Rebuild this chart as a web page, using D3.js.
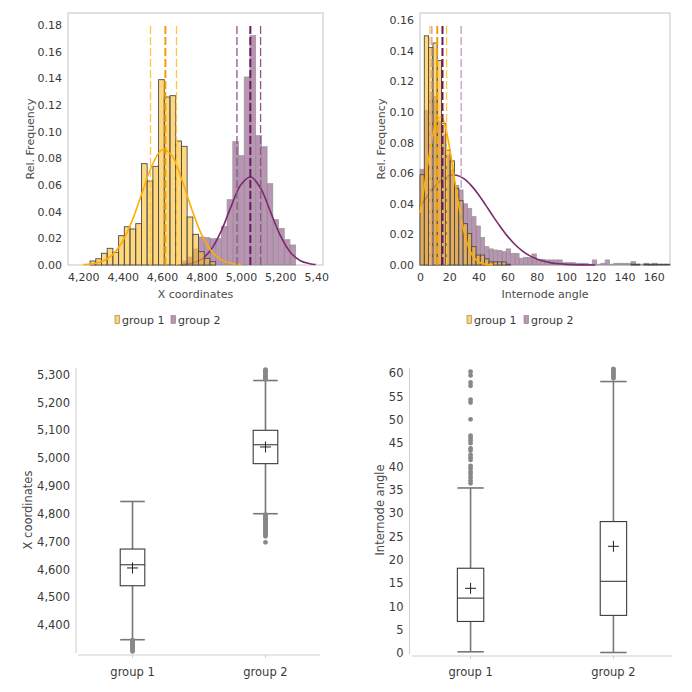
<!DOCTYPE html>
<html><head><meta charset="utf-8">
<script src="https://cdn.jsdelivr.net/npm/d3@7"></script>
<style>body{margin:0;background:#fff}svg{display:block;font-family:"DejaVu Sans",sans-serif}</style>
</head><body><div id="chart"></div>
<script>
// ---------------- DATA ----------------
const groups = ["group 1", "group 2"];

// Histogram of X coordinates (relative frequency per bin)
const xBinStart = 4234, xBinWidth = 29;
const xRelFreqG1 = [0.003,0.0047,0.0088,0.0125,0.0095,0.022,0.0287,0.027,0.031,0.076,0.063,0.074,0.139,0.126,0.127,0.093,0.089,0.036,0.023,0.010,0.005,0.0025];
const xRelFreqG2 = [0,0,0,0,0,0,0,0,0,0,0,0,0,0,0,0,0.003,0.006,0.012,0.021,0.0205,0.0197,0.0197,0.029,0.049,0.0925,0.082,0.141,0.172,0.097,0.0887,0.061,0.034,0.0275,0.019,0.015];
// fitted curves [x, relFreq]
const xCurveG1 = [[4200,0.0003],[4250,0.001],[4300,0.003],[4350,0.008],[4400,0.018],[4450,0.034],[4500,0.055],[4550,0.075],[4600,0.0865],[4650,0.082],[4700,0.064],[4750,0.042],[4800,0.023],[4850,0.0105],[4900,0.004],[4950,0.0013],[5000,0.0004]];
const xCurveG2 = [[4700,0.0003],[4750,0.0013],[4800,0.0043],[4850,0.0118],[4900,0.0254],[4950,0.0438],[5000,0.0602],[5050,0.066],[5100,0.0576],[5150,0.040],[5200,0.0222],[5250,0.0098],[5300,0.0034],[5350,0.001],[5380,0.0004]];

// Histogram of Internode angle
const aBinStart = 0, aBinWidth = 2.95;
const aRelFreqG1 = [0.059,0.1497,0.142,0.145,0.1335,0.0926,0.075,0.068,0.050,0.042,0.027,0.0205,0.012,0.0065,0.0065,0.004,0.002,0.002,0.002,0.002,0.0005,0,0,0,0,0,0,0,0,0,0,0,0,0,0,0,0,0,0,0,0,0,0,0,0,0,0,0,0,0.0005,0.0005,0,0.0005,0.0005,0.0005,0.0005,0.0005,0.0005];
const aRelFreqG2 = [0.0625,0.101,0.113,0.11,0.094,0.085,0.072,0.062,0.052,0.049,0.040,0.037,0.0316,0.0255,0.018,0.012,0.0105,0.0098,0.0095,0.0087,0.0105,0.0076,0.0076,0.0044,0.005,0.005,0.0072,0.0037,0.0037,0.0033,0.0033,0.0033,0.0033,0.0015,0.0015,0.0015,0.0011,0.0011,0.0011,0.0005,0.0033,0.0005,0.0011,0.0033,0.0005,0.0011,0.0011,0.0011,0.0011,0.0022,0.0005,0.0005,0.0011,0.0005,0.0011];
const aCurveG1 = [[0,0.034],[3,0.0514],[6,0.0699],[9,0.0858],[12,0.0955],[15,0.0961],[18,0.0876],[21,0.0722],[24,0.0539],[27,0.0364],[30,0.0223],[33,0.0123],[36,0.0062],[40,0.0021],[45,0.0004],[50,0.0001]];
const aCurveG2 = [[0,0.038],[5,0.045],[10,0.0512],[15,0.0558],[20,0.0584],[25,0.0586],[30,0.0564],[35,0.052],[40,0.0461],[45,0.0391],[50,0.0319],[55,0.025],[60,0.0187],[65,0.0134],[70,0.0093],[75,0.0061],[80,0.0039],[85,0.0024],[90,0.0014],[95,0.0008],[100,0.0004],[110,0.0001],[120,0]];

// Box plot statistics [Q1, median, Q3]
const xQuartG1 = [4541, 4616.5, 4673];
const xQuartG2 = [4980, 5048, 5100];
const aQuartG1 = [6.8, 11.8, 18.2];
const aQuartG2 = [8.1, 15.4, 28.2];
const xMeans = [4605, 5040];
const aMeans = [13.9, 22.9];
const xWhiskers = [[4347, 4844], [4800, 5279]];
const aWhiskers = [[0.3, 35.4], [0.15, 58.2]];
const xOutliersG1 = [4345,4342,4338,4335,4331,4328,4324,4320,4316,4312,4308,4305];
const xOutliersG2 = [5283,5287,5291,5295,5299,5303,5307,5311,5315,5318,4797,4792,4788,4784,4780,4776,4772,4768,4764,4760,4756,4752,4748,4744,4740,4736,4732,4728,4724,4719,4697];
const aOutliersG1 = [60.3,59.5,58,57.3,54.3,53.7,50.1,46.6,46.1,45.6,45,43.9,43.4,42.5,42,41.4,40.1,39.6,38.9,38.4,37.7,37,36.4];
const aOutliersG2 = [58.9,59.2,59.5,59.8,60.1,60.4,60.7,60.9];

// Tick labels
const xHistTicks = [4200,4400,4600,4800,5000,5200,5400];
const xHistYTicks = [0,0.02,0.04,0.06,0.08,0.10,0.12,0.14,0.16,0.18];
const aHistTicks = [0,20,40,60,80,100,120,140,160];
const aHistYTicks = [0,0.02,0.04,0.06,0.08,0.10,0.12,0.14,0.16];
const xBoxTicks = [4400,4500,4600,4700,4800,4900,5000,5100,5200,5300];
const aBoxTicks = [0,5,10,15,20,25,30,35,40,45,50,55,60];

// ---------------- STYLE ----------------
const C = {
  yFill: "rgba(255,190,40,0.6)", yStroke: "#4a4a4a",
  pFill: "rgba(120,50,110,0.52)", pStroke: "#9a9a9a",
  yCurve: "#FFAE00", pCurve: "#7A2A6F",
  yQ: "#FFC640", yMed: "#F2A200", frame: "#c4c4c4", text: "#3a3a3a", title: "#4a4a4a"
};

const svg = d3.select("#chart").append("svg").attr("width", 692).attr("height", 692);
svg.append("rect").attr("width", 692).attr("height", 692).attr("fill", "#fff");
svg.append("defs").append("clipPath").attr("id", "clipTL")
  .append("rect").attr("x", 0).attr("y", 0).attr("width", 329).attr("height", 346);

function histPanel(g, o) {
  const xs = d3.scaleLinear().domain(o.xDomain).range(o.xRange);
  const ys = d3.scaleLinear().domain(o.yDomain).range([o.bottom, o.top]);
  // frame
  g.append("rect").attr("x", o.xRange[0]).attr("y", o.top)
    .attr("width", o.xRange[1] - o.xRange[0]).attr("height", o.bottom - o.top)
    .attr("fill", "none").attr("stroke", C.frame);
  const drawBars = (vals, fill, stroke, sw) => {
    g.append("g").selectAll("rect").data(vals.map((v, i) => ({v, i})).filter(d => d.v > 0))
      .join("rect")
      .attr("x", d => xs(o.binStart + d.i * o.binWidth))
      .attr("width", d => xs(o.binStart + (d.i + 1) * o.binWidth) - xs(o.binStart + d.i * o.binWidth))
      .attr("y", d => ys(d.v)).attr("height", d => ys(0) - ys(d.v))
      .attr("fill", fill).attr("stroke", stroke).attr("stroke-width", sw);
  };
  const line = d3.line().x(d => xs(d[0])).y(d => ys(d[1])).curve(d3.curveCatmullRom);
  drawBars(o.g2, C.pFill, C.pStroke, 0.8);
  g.append("path").attr("d", line(o.c2)).attr("fill", "none").attr("stroke", C.pCurve).attr("stroke-width", 1.6);
  drawBars(o.g1, C.yFill, C.yStroke, 0.9);
  g.append("path").attr("d", line(o.c1)).attr("fill", "none").attr("stroke", C.yCurve).attr("stroke-width", 1.6);
  // quartile dashed lines
  const dash = (v, col, w) => g.append("line").attr("x1", xs(v)).attr("x2", xs(v))
    .attr("y1", o.bottom).attr("y2", o.top + 12).attr("stroke", col).attr("stroke-width", w)
    .attr("stroke-dasharray", "8,3");
  dash(o.q1[0], C.yQ, 1.3); dash(o.q1[2], C.yQ, 1.3);
  dash(o.q2[0], o.pQ, 1.3); dash(o.q2[2], o.pQ, 1.3);
  dash(o.q1[1], C.yMed, 2); dash(o.q2[1], "#6A1B5F", 2);
  // axes
  const ax = g.append("g").attr("transform", `translate(0,${o.bottom})`)
    .call(d3.axisBottom(xs).tickValues(o.xTicks).tickFormat(o.xFmt).tickSize(0).tickPadding(8));
  const ay = g.append("g").attr("transform", `translate(${o.xRange[0]},0)`)
    .call(d3.axisLeft(ys).tickValues(o.yTicks).tickFormat(d3.format(".2f")).tickSize(0).tickPadding(6));
  [ax, ay].forEach(a => { a.select(".domain").remove(); a.selectAll("text").attr("font-size", 11).attr("fill", C.text).attr("font-family", "DejaVu Sans"); });
  g.append("text").attr("x", (o.xRange[0] + o.xRange[1]) / 2).attr("y", 298).attr("text-anchor", "middle")
    .attr("font-size", 11).attr("fill", C.title).text(o.xTitle);
  g.append("text").attr("transform", `translate(${o.yTitleX},139) rotate(-90)`).attr("text-anchor", "middle")
    .attr("dominant-baseline", "central").attr("font-size", 11).attr("fill", C.title).text("Rel. Frequency");
  // legend
  const lg = g.append("g");
  const items = [[groups[0], "#FFD36E", "#8a7a50"], [groups[1], "#B994B4", "#8a7a88"]];
  items.forEach((it, i) => {
    const x0 = o.legendX[i];
    lg.append("rect").attr("x", x0).attr("y", 315.5).attr("width", 4.5).attr("height", 8)
      .attr("fill", it[1]).attr("stroke", it[2]).attr("stroke-width", 0.6);
    lg.append("text").attr("x", x0 + 7).attr("y", 324).attr("font-size", 11).attr("fill", C.text).text(it[0]);
  });
}

histPanel(svg.append("g").attr("clip-path", "url(#clipTL)"), {
  xDomain: [4122, 5417], xRange: [68, 323], yDomain: [0, 0.189], top: 13, bottom: 265,
  binStart: xBinStart, binWidth: xBinWidth, g1: xRelFreqG1, g2: xRelFreqG2, c1: xCurveG1, c2: xCurveG2,
  q1: xQuartG1, q2: xQuartG2, pQ: "#93558B", xTicks: xHistTicks, yTicks: xHistYTicks, xFmt: d3.format(","),
  xTitle: "X coordinates", yTitleX: 30, legendX: [115, 171]
});
histPanel(svg.append("g"), {
  xDomain: [0, 171.2], xRange: [420, 670], yDomain: [0, 0.1646], top: 13, bottom: 265,
  binStart: aBinStart, binWidth: aBinWidth, g1: aRelFreqG1, g2: aRelFreqG2, c1: aCurveG1, c2: aCurveG2,
  q1: aQuartG1, q2: aQuartG2, pQ: "#C49BC0", xTicks: aHistTicks, yTicks: aHistYTicks, xFmt: d3.format("d"),
  xTitle: "Internode angle", yTitleX: 381, legendX: [467, 524]
});

function boxPanel(g, o) {
  const ys = d3.scaleLinear().domain(o.yDomain).range([o.axisY, o.top]);
  const xs = d3.scalePoint().domain(groups).range([o.xStart, o.xEnd]).padding(0.41);
  g.append("line").attr("x1", o.yAxisX).attr("x2", o.yAxisX).attr("y1", o.top).attr("y2", o.axisY - 2).attr("stroke", "#cfcfcf");
  g.append("line").attr("x1", o.xStart).attr("x2", o.xEnd).attr("y1", o.axisY).attr("y2", o.axisY).attr("stroke", "#cfcfcf");
  const ay = g.append("g").attr("transform", `translate(${o.yAxisX},0)`)
    .call(d3.axisLeft(ys).tickValues(o.yTicks).tickFormat(o.fmt).tickSize(0).tickPadding(6));
  ay.select(".domain").remove();
  ay.selectAll("text").attr("font-size", 11.5).attr("fill", C.text).attr("font-family", "DejaVu Sans");
  groups.forEach((grp, i) => {
    const cx = xs(grp), hw = o.boxW / 2;
    const q = o.quart[i], w = o.whisk[i];
    g.append("line").attr("x1", cx).attr("x2", cx).attr("y1", o.axisY).attr("y2", o.axisY + 3).attr("stroke", "#cfcfcf");
    // whiskers
    g.append("line").attr("x1", cx).attr("x2", cx).attr("y1", ys(w[0])).attr("y2", ys(q[0])).attr("stroke", "#777").attr("stroke-width", 1.6);
    g.append("line").attr("x1", cx).attr("x2", cx).attr("y1", ys(w[1])).attr("y2", ys(q[2])).attr("stroke", "#777").attr("stroke-width", 1.6);
    [w[0], w[1]].forEach(v => g.append("line").attr("x1", cx - hw).attr("x2", cx + hw)
      .attr("y1", ys(v)).attr("y2", ys(v)).attr("stroke", "#777").attr("stroke-width", 1.6));
    // outliers
    g.append("g").selectAll("circle").data(o.out[i]).join("circle")
      .attr("cx", cx).attr("cy", d => ys(d)).attr("r", 2.4).attr("fill", "#888");
    // box
    g.append("rect").attr("x", cx - hw).attr("y", ys(q[2])).attr("width", o.boxW).attr("height", ys(q[0]) - ys(q[2]))
      .attr("fill", "#fff").attr("stroke", "#3a3a3a").attr("stroke-width", 1.1);
    g.append("line").attr("x1", cx - hw).attr("x2", cx + hw).attr("y1", ys(q[1])).attr("y2", ys(q[1])).attr("stroke", "#3a3a3a").attr("stroke-width", 1.1);
    // mean +
    const my = ys(o.means[i]);
    g.append("line").attr("x1", cx - 5.5).attr("x2", cx + 5.5).attr("y1", my).attr("y2", my).attr("stroke", "#222");
    g.append("line").attr("x1", cx).attr("x2", cx).attr("y1", my - 5.5).attr("y2", my + 5.5).attr("stroke", "#222");
    g.append("text").attr("x", cx).attr("y", 676).attr("text-anchor", "middle").attr("font-size", 11.5).attr("fill", C.text).text(grp);
  });
  g.append("text").attr("transform", `translate(${o.titleX},510) rotate(-90)`).attr("text-anchor", "middle")
    .attr("dominant-baseline", "central").attr("font-size", 11.5).attr("fill", C.title).text(o.title);
}

boxPanel(svg.append("g"), {
  yDomain: [4292, 5324], axisY: 655, top: 368, xStart: 78, xEnd: 320, yAxisX: 76, boxW: 24.6,
  yTicks: xBoxTicks, fmt: d3.format(","), quart: [xQuartG1, xQuartG2], whisk: xWhiskers, means: xMeans,
  out: [xOutliersG1, xOutliersG2], title: "X coordinates", titleX: 28
});
boxPanel(svg.append("g"), {
  yDomain: [-0.6, 61.1], axisY: 656, top: 368, xStart: 412, xEnd: 672, yAxisX: 409.5, boxW: 26.4,
  yTicks: aBoxTicks, fmt: d3.format("d"), quart: [aQuartG1, aQuartG2], whisk: aWhiskers, means: aMeans,
  out: [aOutliersG1, aOutliersG2], title: "Internode angle", titleX: 380
});
</script></body></html>
